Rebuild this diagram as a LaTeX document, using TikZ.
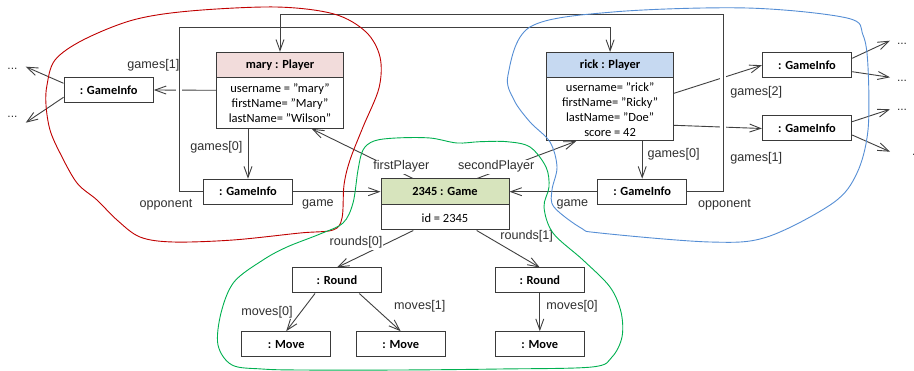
\documentclass[tikz,border=0pt]{standalone}
\usepackage{fontspec}
\setmainfont{Carlito}
\newfontfamily\lblfont{Liberation Sans}
\usetikzlibrary{arrows.meta,calc}
\definecolor{linec}{HTML}{404040}
\definecolor{boxc}{HTML}{3A3A3A}
\definecolor{lblc}{HTML}{303030}
\definecolor{maryc}{HTML}{F2DCDB}
\definecolor{rickc}{HTML}{C6D9F1}
\definecolor{gamec}{HTML}{D7E4BD}
\definecolor{hullred}{HTML}{C00000}
\definecolor{hullblue}{HTML}{558ED5}
\definecolor{hullgreen}{HTML}{00B050}
\tikzset{
  objbox/.style={draw=boxc, line width=1pt, fill=white, minimum width=89.3pt, minimum height=25pt, inner sep=0pt, font=\fontsize{12.4}{14}\selectfont\bfseries},
  pbox/.style={draw=boxc, line width=1pt, fill=white, inner sep=0pt},
  hdr/.style={draw=boxc, line width=1pt, anchor=north, minimum height=25.4pt, inner sep=0pt, font=\fontsize{12.4}{14}\selectfont\bfseries},
  attr/.style={align=center, inner sep=0pt, font=\fontsize{12.5}{14.8}\selectfont},
  conn/.style={draw=linec, line width=0.9pt},
  arr/.style={-{Straight Barb[length=11pt,width=8pt]}},
  lbl/.style={font=\lblfont\fontsize{12.6}{14}\selectfont, text=lblc, inner sep=1pt},
  lblw/.style={lbl, fill=white},
  dotsl/.style={font=\lblfont\fontsize{12}{14}\selectfont, text=lblc, inner sep=0pt, anchor=base},
  gapw/.style={draw=white, line width=6.5pt},
  hull/.style={line width=0.9pt, smooth cycle, tension=0.55}
}
\begin{document}
\begin{tikzpicture}[x=1pt,y=-1pt]
\useasboundingbox[fill=white] (0,0) rectangle (914,371);

% ---------- players ----------
\node[pbox, minimum width=126.6pt, minimum height=76pt] (mary) at (280,90.3) {};
\node[hdr, fill=maryc, minimum width=126.6pt] (maryh) at (mary.north) {mary : Player};
\node[attr] (marya) at (280,103) {username = "mary"\\firstName= "Mary"\\lastName= "Wilson"};

\node[pbox, minimum width=126.8pt, minimum height=88.2pt] (rick) at (610.1,96.6) {};
\node[hdr, fill=rickc, minimum width=126.8pt] (rickh) at (rick.north) {rick : Player};
\node[attr] (ricka) at (610.1,109.6) {username= "rick"\\firstName= "Ricky"\\lastName= "Doe"\\score = 42};

% ---------- game ----------
\node[pbox, minimum width=128pt, minimum height=51pt] (game) at (445,204.5) {};
\node[hdr, fill=gamec, minimum width=128pt, minimum height=25.3pt] (gameh) at (game.north) {2345 : Game};
\node[attr] (gamea) at (445,217.8) {id = 2345};

% ---------- game infos ----------
\node[objbox] (lgi) at (108.7,90) {: GameInfo};
\node[objbox] (mgi) at (248,191.7) {: GameInfo};
\node[objbox] (rgi) at (642.2,191.7) {: GameInfo};
\node[objbox] (gi1) at (807,65.2) {: GameInfo};
\node[objbox] (gi2) at (807,128.5) {: GameInfo};

% ---------- rounds and moves ----------
\node[objbox] (r1) at (337,280.5) {: Round};
\node[objbox] (r2) at (539.8,280.5) {: Round};
\node[objbox] (m1) at (286.2,344.2) {: Move};
\node[objbox] (m2) at (400.7,344.2) {: Move};
\node[objbox] (m3) at (539.8,344.2) {: Move};

% ---------- free ends ----------
\coordinate (ld1) at (25.7,66.7);
\coordinate (ld2) at (25.7,122.7);
\coordinate (rd1) at (890,40.7);
\coordinate (rd2) at (890,77.3);
\coordinate (rd3) at (890,109.3);
\coordinate (rd4) at (890,151.7);
\coordinate (lcorner) at (179,27);
\coordinate (rcorner) at (723,14.5);

% ---------- connectors ----------
\draw[conn,arr] (mary.west) -- (lgi.east);
\draw[conn,arr] ([yshift=3.3pt]rick.east) -- (gi1.west);
\draw[conn,arr] ([yshift=-28.7pt]rick.east) -- (gi2.west);
\draw[gapw] (179,84) -- (179,96);
\draw[gapw] (723,71) -- (723,83);
\draw[gapw] (723,121) -- (723,133);
\draw[conn,arr] (mgi.west) -| (lcorner) -| (rick.north);
\draw[conn,arr] (rgi.east) -| (rcorner) -| (mary.north);

\draw[conn,arr] (mgi.north |- mary.south) -- (mgi.north);
\draw[conn,arr] (rgi.north |- rick.south) -- (rgi.north);
\draw[conn,arr] (mgi.east) -- (game.west |- mgi.east);
\draw[conn,arr] (rgi.west) -- (game.east |- rgi.west);
\draw[conn,arr] ([xshift=-32pt]game.north) -- ([xshift=31.7pt]mary.south);
\draw[conn,arr] ([xshift=32pt]game.north) -- ([xshift=-34pt]rick.south);

\draw[conn,arr] ([xshift=-31.7pt]game.south) -- (r1.north);
\draw[conn,arr] ([xshift=31.7pt]game.south) -- (r2.north);
\draw[conn,arr] ([xshift=-22pt]r1.south) -- (m1.north);
\draw[conn,arr] ([xshift=22.3pt]r1.south) -- (m2.north);
\draw[conn,arr] (r2.south) -- (m3.north);

\draw[conn,arr] ([yshift=6.7pt]lgi.west) -- (ld1);
\draw[conn,arr] ([yshift=-7.3pt]lgi.west) -- (ld2);
\draw[conn,arr] ([yshift=6.9pt]gi1.east) -- (rd1);
\draw[conn,arr] ([yshift=-6.5pt]gi1.east) -- (rd2);
\draw[conn,arr] ([yshift=6.8pt]gi2.east) -- (rd3);
\draw[conn,arr] ([yshift=-6.5pt]gi2.east) -- (rd4);

% ---------- labels ----------
\node[lbl] (lgames1) at (153.4,65) {games[1]};
\node[lbl] (lgames0) at (216.4,147.7) {games[0]};
\node[lbl] (lopp) at (166,204.3) {opponent};
\node[lbl] (lgame) at (318,204.3) {game};
\node[lblw] (lfirst) at (401.3,166.7) {firstPlayer};
\node[lblw] (lsecond) at (496.2,166.7) {secondPlayer};
\node[lbl] (rgame) at (572.4,204.3) {game};
\node[lbl] (ropp) at (724.5,204.3) {opponent};
\node[lbl] (rgames0) at (673.6,154.3) {games[0]};
\node[lbl] (rgames2) at (756.2,92.3) {games[2]};
\node[lbl] (rgames1) at (756.2,158.3) {games[1]};
\node[lblw] (lrounds0) at (356,242.7) {rounds[0]};
\node[lbl] (lrounds1) at (526.7,236.7) {rounds[1]};
\node[lbl] (lmoves0) at (267,312.7) {moves[0]};
\node[lblw] (lmoves1) at (419.8,306) {moves[1]};
\node[lbl] (rmoves0) at (572,306) {moves[0]};

\node[dotsl] (dl1) at (12.5,69.5) {...};
\node[dotsl] (dl2) at (12.5,118) {...};
\node[dotsl] (dr1) at (902,45) {...};
\node[dotsl] (dr2) at (902,81.7) {...};
\node[dotsl] (dr3) at (902,111) {...};
\node[dotsl] (dr4) at (917,156) {...};

% ---------- hulls ----------
\draw[hull, draw=hullred] plot coordinates {(276,7) (334,14) (366,32) (380,57) (379,88) (363,127) (350,160) (344,185) (342,218) (333,230) (300,233) (233,240) (173,242) (140,237) (117,220) (97,200) (77,183) (60,153) (50,130) (46,105) (47,85) (55,60) (83,40) (133,20) (190,11)};
\draw[hull, draw=hullblue] plot coordinates {(530,27) (613,12) (747,8) (847,18) (863,35) (868,67) (868,130) (857,173) (833,203) (767,237) (710,242) (600,233) (581,228) (554,207) (552,190) (557,167) (550,142) (530,122) (514,100) (508,75)};
\draw[hull, draw=hullgreen] plot coordinates {(396,138) (430,138) (457,143) (480,141.7) (507,141.7) (530,147) (546,167) (549,187) (544,207) (553,233) (583,260) (610,287) (621,312) (622,337) (612,357) (592,367) (500,369) (400,370) (300,370) (262,369) (232,365) (218,345) (221,313) (234,282) (263,260) (287,247) (320,234) (343,223) (353,203) (358,170) (363,150) (374,141)};
\end{tikzpicture}
\end{document}
